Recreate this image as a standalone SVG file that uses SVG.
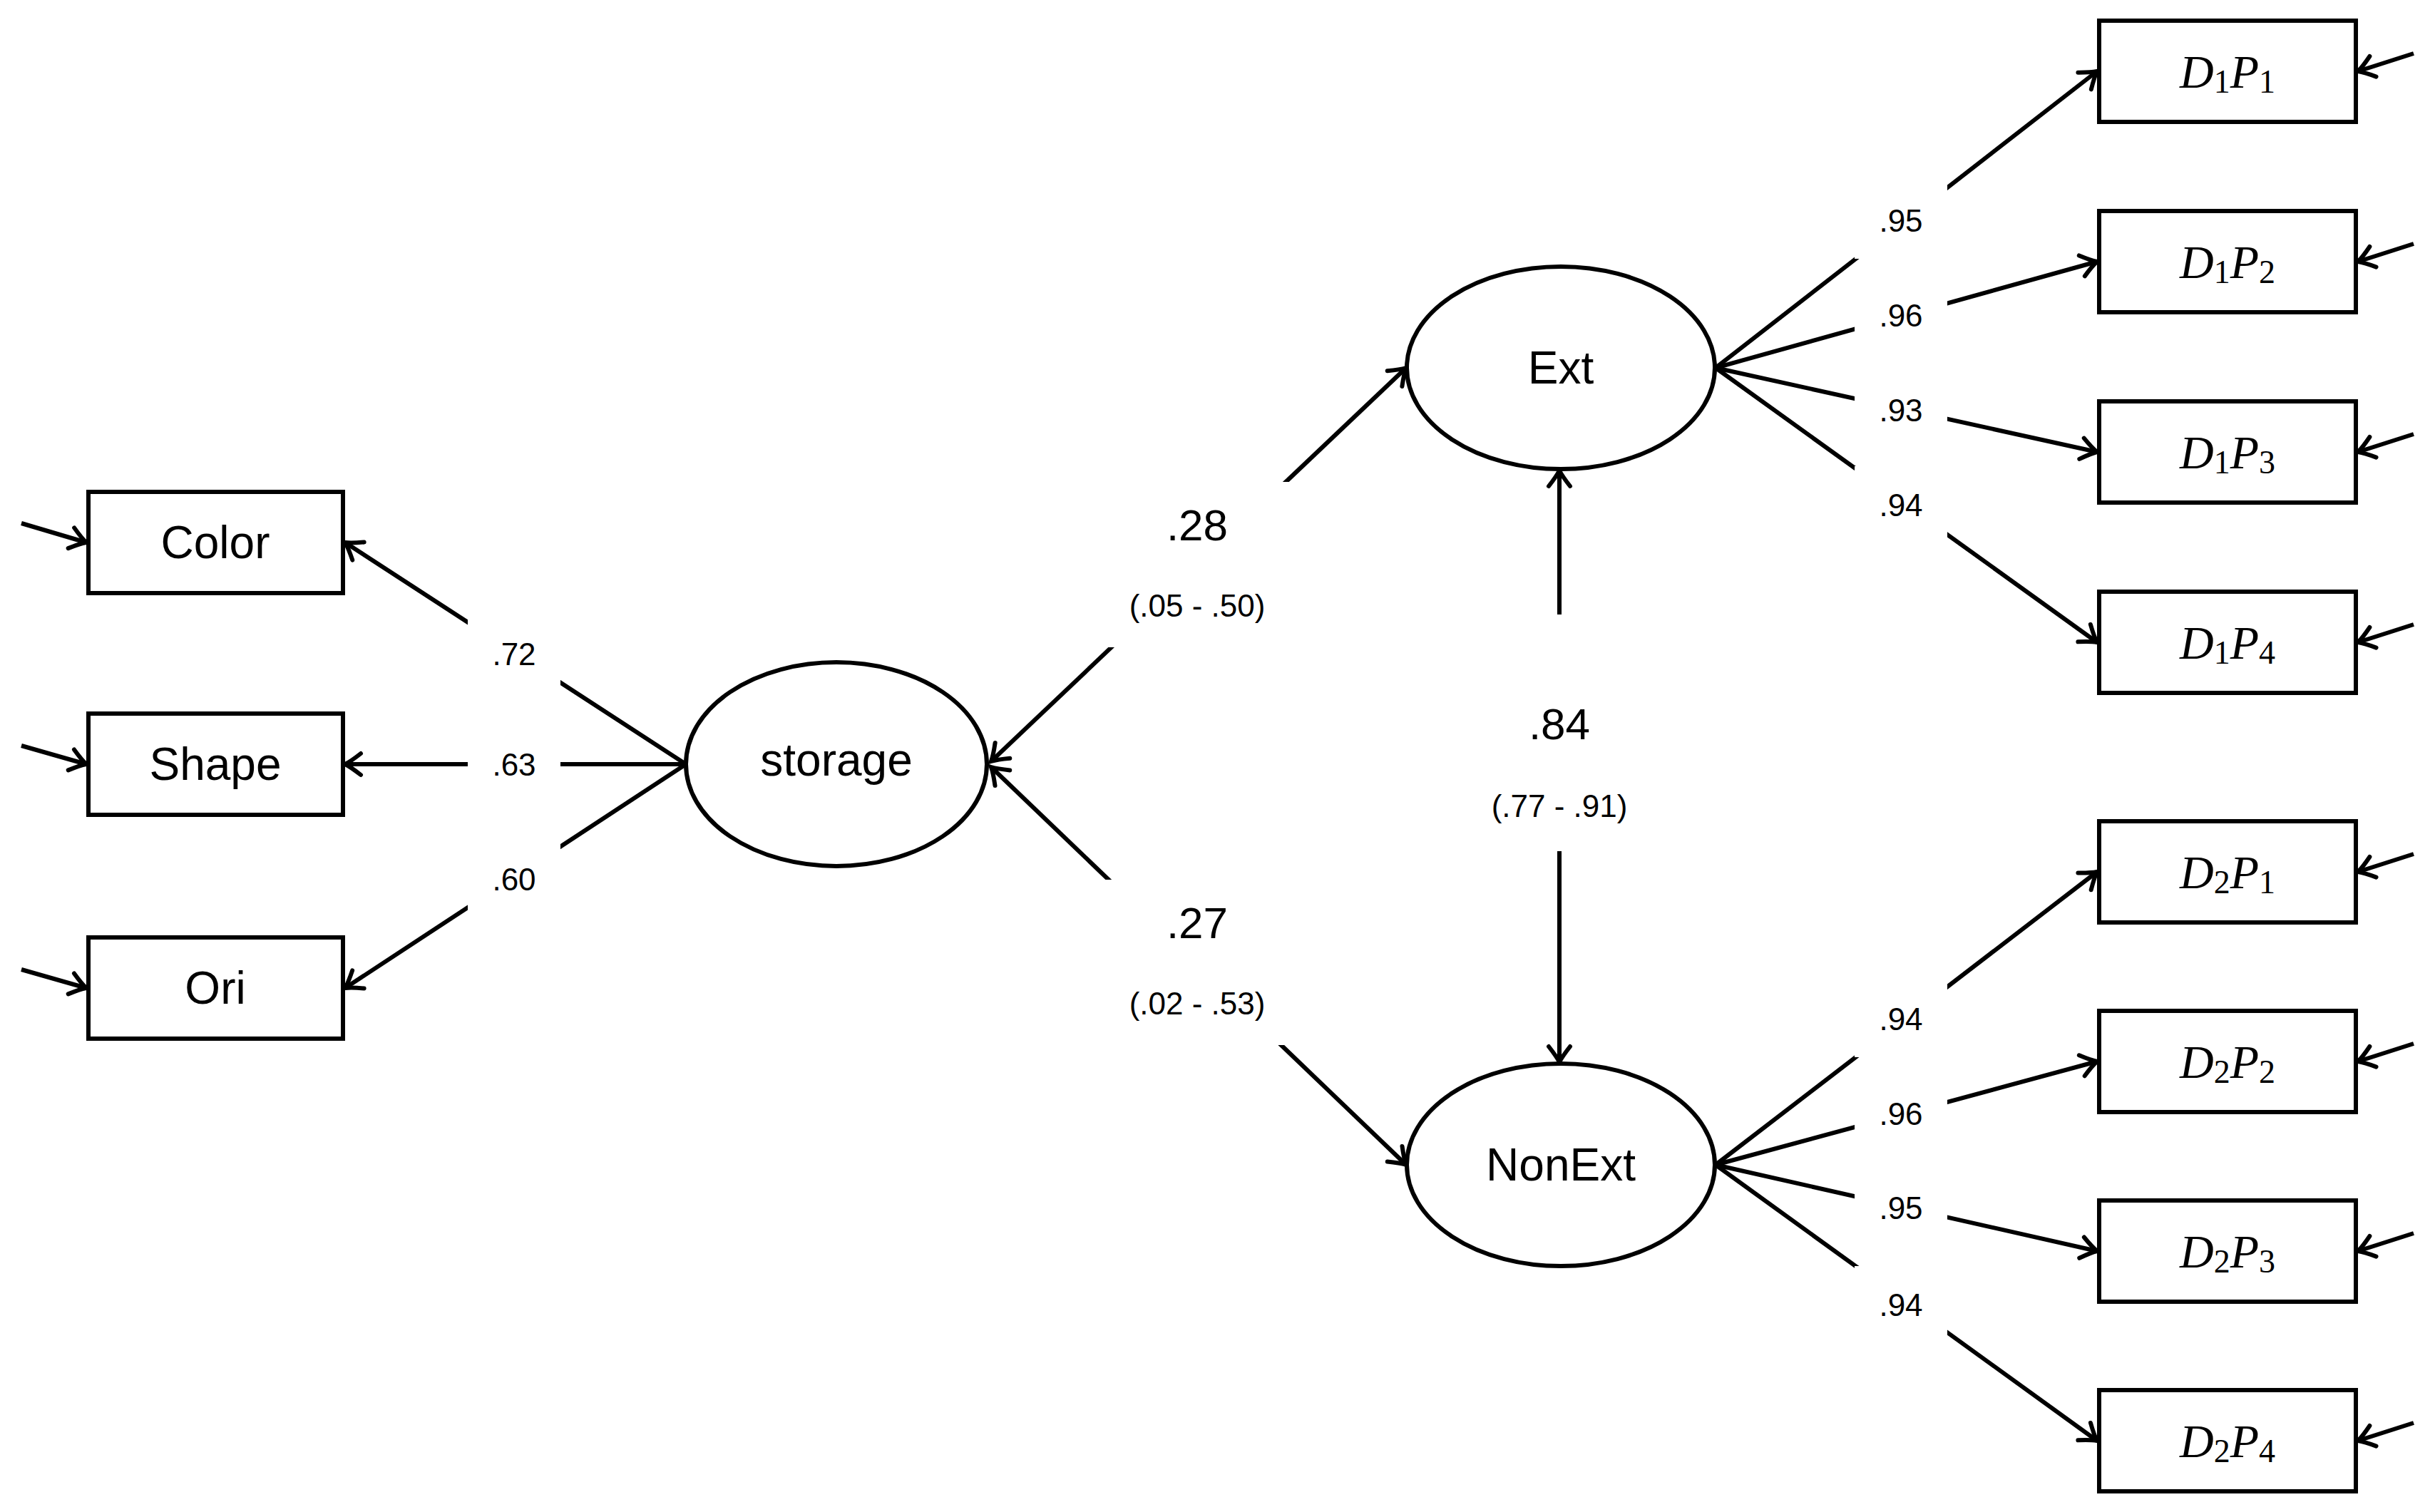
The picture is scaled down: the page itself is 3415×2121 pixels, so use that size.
<svg xmlns="http://www.w3.org/2000/svg" width="3415" height="2121" viewBox="0 0 3415 2121">
<style>
.n{fill:#fff;stroke:#000;stroke-width:6}
.t{font-family:"Liberation Sans",Arial,sans-serif;font-size:64px;text-anchor:middle;dominant-baseline:central}
.m{font-family:"Liberation Serif","Times New Roman",serif;font-size:66px;font-style:italic;text-anchor:middle;dominant-baseline:central}
.m tspan.s{font-style:normal;font-size:46px}
.c line{stroke:#000;stroke-width:6;marker-end:url(#a)}
.c line.b{marker-start:url(#a)}
.g{fill:#fff}
.l{font-family:"Liberation Sans",Arial,sans-serif;font-size:44px;text-anchor:middle;dominant-baseline:central}
.L{font-family:"Liberation Sans",Arial,sans-serif;font-size:62px;text-anchor:middle;dominant-baseline:central}
</style>
<defs>
<marker id="a" markerUnits="userSpaceOnUse" viewBox="-30 -20 34 40" refX="0" refY="0" markerWidth="34" markerHeight="40" orient="auto-start-reverse" overflow="visible">
<path d="M -22 -15 Q -8 -4 0 0 Q -8 4 -22 15" fill="none" stroke="#000" stroke-width="6" stroke-linecap="round"/>
</marker>
</defs>
<rect width="3415" height="2121" fill="#fff"/>
<g id="connectors" class="c">
<line x1="962" y1="1072" x2="484" y2="761"/>
<line x1="962" y1="1072" x2="484" y2="1072"/>
<line x1="962" y1="1072" x2="484" y2="1386"/>
<line x1="30" y1="734" x2="121" y2="761"/>
<line x1="30" y1="1046" x2="121" y2="1072"/>
<line x1="30" y1="1360" x2="121" y2="1386"/>
<line class="b" x1="1390" y1="1068" x2="1972" y2="516"/>
<line class="b" x1="1390" y1="1076" x2="1972" y2="1634"/>
<line class="b" x1="2187" y1="660" x2="2187" y2="1490"/>
<line x1="2406" y1="516" x2="2941" y2="100"/>
<line x1="2406" y1="516" x2="2941" y2="367"/>
<line x1="2406" y1="516" x2="2941" y2="634"/>
<line x1="2406" y1="516" x2="2941" y2="901"/>
<line x1="2406" y1="1634" x2="2941" y2="1223"/>
<line x1="2406" y1="1634" x2="2941" y2="1489"/>
<line x1="2406" y1="1634" x2="2941" y2="1755"/>
<line x1="2406" y1="1634" x2="2941" y2="2021"/>
<line x1="3385" y1="75" x2="3307" y2="100"/>
<line x1="3385" y1="342" x2="3307" y2="367"/>
<line x1="3385" y1="609" x2="3307" y2="634"/>
<line x1="3385" y1="876" x2="3307" y2="901"/>
<line x1="3385" y1="1198" x2="3307" y2="1223"/>
<line x1="3385" y1="1464" x2="3307" y2="1489"/>
<line x1="3385" y1="1730" x2="3307" y2="1755"/>
<line x1="3385" y1="1996" x2="3307" y2="2021"/>
</g>
<g id="labels">
<rect class="g" x="656" y="862" width="130" height="108"/><text class="l" x="721" y="917">.72</text>
<rect class="g" x="656" y="1030" width="130" height="84"/><text class="l" x="721" y="1072">.63</text>
<rect class="g" x="656" y="1180" width="130" height="108"/><text class="l" x="721" y="1233">.60</text>
<rect class="g" x="1540" y="676" width="278" height="232"/><text class="L" x="1679" y="736">.28</text><text class="l" x="1679" y="849">(.05 - .50)</text>
<rect class="g" x="1540" y="1234" width="278" height="232"/><text class="L" x="1679" y="1294">.27</text><text class="l" x="1679" y="1407">(.02 - .53)</text>
<rect class="g" x="2040" y="862" width="294" height="332"/><text class="L" x="2187" y="1015">.84</text><text class="l" x="2187" y="1130">(.77 - .91)</text>
<rect class="g" x="2601" y="255" width="130" height="108"/><text class="l" x="2666" y="309">.95</text>
<rect class="g" x="2601" y="400" width="130" height="84"/><text class="l" x="2666" y="442">.96</text>
<rect class="g" x="2601" y="533" width="130" height="84"/><text class="l" x="2666" y="575">.93</text>
<rect class="g" x="2601" y="654" width="130" height="108"/><text class="l" x="2666" y="708">.94</text>
<rect class="g" x="2601" y="1375" width="130" height="108"/><text class="l" x="2666" y="1429">.94</text>
<rect class="g" x="2601" y="1520" width="130" height="84"/><text class="l" x="2666" y="1562">.96</text>
<rect class="g" x="2601" y="1652" width="130" height="84"/><text class="l" x="2666" y="1694">.95</text>
<rect class="g" x="2601" y="1776" width="130" height="108"/><text class="l" x="2666" y="1830">.94</text>
</g>
<g id="color"><rect class="n" x="124" y="690" width="357" height="142"/><text class="t" x="302" y="761">Color</text></g>
<g id="shape"><rect class="n" x="124" y="1001" width="357" height="142"/><text class="t" x="302" y="1072">Shape</text></g>
<g id="ori"><rect class="n" x="124" y="1315" width="357" height="142"/><text class="t" x="302" y="1386">Ori</text></g>
<g id="storage"><ellipse class="n" cx="1173" cy="1072" rx="211" ry="143"/><text class="t" x="1173" y="1066">storage</text></g>
<g id="ext"><ellipse class="n" cx="2189" cy="516" rx="216" ry="142"/><text class="t" x="2189" y="516">Ext</text></g>
<g id="nonext"><ellipse class="n" cx="2189" cy="1634" rx="216" ry="142"/><text class="t" x="2189" y="1634">NonExt</text></g>
<g id="d1p1"><rect class="n" x="2944" y="29" width="360" height="142"/><text class="m" x="3124" y="100">D<tspan class="s" dy="14">1</tspan><tspan dy="-14">P</tspan><tspan class="s" dy="14">1</tspan></text></g>
<g id="d1p2"><rect class="n" x="2944" y="296" width="360" height="142"/><text class="m" x="3124" y="367">D<tspan class="s" dy="14">1</tspan><tspan dy="-14">P</tspan><tspan class="s" dy="14">2</tspan></text></g>
<g id="d1p3"><rect class="n" x="2944" y="563" width="360" height="142"/><text class="m" x="3124" y="634">D<tspan class="s" dy="14">1</tspan><tspan dy="-14">P</tspan><tspan class="s" dy="14">3</tspan></text></g>
<g id="d1p4"><rect class="n" x="2944" y="830" width="360" height="142"/><text class="m" x="3124" y="901">D<tspan class="s" dy="14">1</tspan><tspan dy="-14">P</tspan><tspan class="s" dy="14">4</tspan></text></g>
<g id="d2p1"><rect class="n" x="2944" y="1152" width="360" height="142"/><text class="m" x="3124" y="1223">D<tspan class="s" dy="14">2</tspan><tspan dy="-14">P</tspan><tspan class="s" dy="14">1</tspan></text></g>
<g id="d2p2"><rect class="n" x="2944" y="1418" width="360" height="142"/><text class="m" x="3124" y="1489">D<tspan class="s" dy="14">2</tspan><tspan dy="-14">P</tspan><tspan class="s" dy="14">2</tspan></text></g>
<g id="d2p3"><rect class="n" x="2944" y="1684" width="360" height="142"/><text class="m" x="3124" y="1755">D<tspan class="s" dy="14">2</tspan><tspan dy="-14">P</tspan><tspan class="s" dy="14">3</tspan></text></g>
<g id="d2p4"><rect class="n" x="2944" y="1950" width="360" height="142"/><text class="m" x="3124" y="2021">D<tspan class="s" dy="14">2</tspan><tspan dy="-14">P</tspan><tspan class="s" dy="14">4</tspan></text></g>
</svg>
